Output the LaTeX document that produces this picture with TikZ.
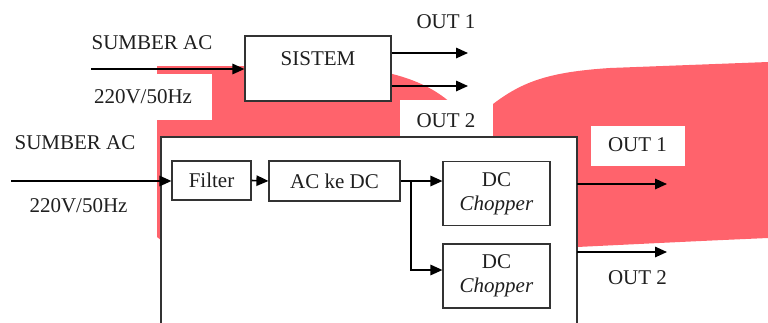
\documentclass[tikz,border=0pt]{standalone}
\usepackage{fontspec}
\setmainfont{Liberation Serif}
\usetikzlibrary{arrows.meta}
\definecolor{blob}{RGB}{255,99,108}
\begin{document}
\begin{tikzpicture}[x=1pt,y=-1pt,
  every node/.style={font=\fontsize{21}{24}\selectfont, inner sep=0pt, text=black!88},
  box/.style={draw=black!80, line width=1.2pt, fill=white},
  arr/.style={line width=1.6pt, -{Triangle[length=12pt,width=10.5pt]}},
  ln/.style={line width=1.6pt}]
\useasboundingbox (0,0) rectangle (768,322);
% red background blob
\fill[blob] (157,66) -- (330,66) .. controls (390,68) and (428,82) .. (452,104)
  -- (493,104) .. controls (522,82) and (548,72) .. (610,68) -- (768,62)
  -- (768,238) .. controls (700,241) .. (577,247) -- (161,240) -- (157,237) -- cycle;
\fill[white] (150,74) rectangle (212,120);
\fill[white] (400,100) rectangle (493,137);
\fill[white] (591,126) rectangle (685,166);
% big enclosing box (open at bottom)
\fill[white] (161,137) rectangle (577,330);
\draw[draw=black!80, line width=1.2pt] (161,330) -- (161,137) -- (577,137) -- (577,330);
% top system
\node[box, minimum width=146pt, minimum height=65pt] (sis) at (318,68.5) {};
\node (sistxt) at (318,59) {SISTEM};
\node (sa1) at (152,43) {SUMBER AC};
\node (v1) at (143,97) {220V/50Hz};
\coordinate (in1) at (91,69);
\draw[arr] (in1) -- (sis.west |- in1);
\coordinate (o1) at (468,53);
\coordinate (o2) at (468,86);
\draw[arr] (sis.east |- o1) -- (o1);
\draw[arr] (sis.east |- o2) -- (o2);
\node (out1a) at (446,22) {OUT 1};
\node (out2a) at (446,121) {OUT 2};
% lower system
\node (sa2) at (75,143) {SUMBER AC};
\node (v2) at (78.5,206) {220V/50Hz};
\node[box, minimum width=79pt, minimum height=39pt] (fil) at (211.5,180.5) {Filter};
\node[box, minimum width=131pt, minimum height=40pt] (acdc) at (334.5,181) {AC ke DC};
\node[box, minimum width=107pt, minimum height=64pt, align=center] (dc1) at (496.5,193.5) {DC\\\textit{Chopper}};
\node[box, minimum width=107pt, minimum height=64pt, align=center] (dc2) at (496.5,276) {DC\\\textit{Chopper}};
\coordinate (in2) at (11,181);
\draw[arr] (in2) -- (fil.west |- in2);
\draw[arr] (fil.east) -- (acdc.west);
\coordinate (j) at (411,181);
\draw[ln] (acdc.east |- j) -- (j);
\draw[arr] (j) -- (dc1.west |- j);
\draw[arr] (j) |- (dc2.west |- 0,270);
\coordinate (q1) at (667,184);
\coordinate (q2) at (667,252);
\draw[arr] (577,184) -- (q1);
\draw[arr] (577,252) -- (q2);
\node (out1b) at (637.5,145) {OUT 1};
\node (out2b) at (637.5,278) {OUT 2};
\end{tikzpicture}
\end{document}
